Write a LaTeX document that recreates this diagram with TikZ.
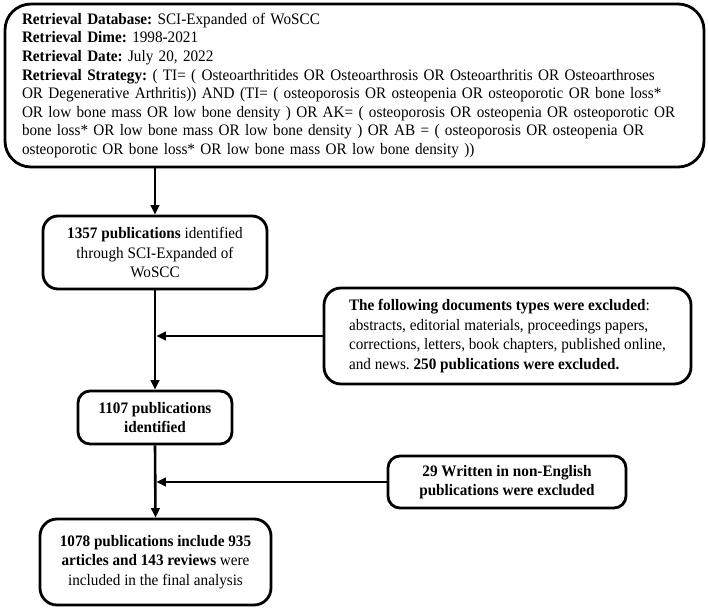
\documentclass[tikz,border=0pt]{standalone}
\usepackage{fontspec}
\setmainfont{Liberation Serif}[FakeStretch=0.95]
\usetikzlibrary{arrows.meta}
\frenchspacing
\begin{document}
\begin{tikzpicture}[x=1pt,y=-1pt,
  box/.style={draw, line width=2.8pt, rounded corners=14pt, inner sep=0pt,
    align=center, font=\fontsize{16}{19.5}\selectfont},
  arr/.style={line width=2.6pt, -{Triangle[length=9.5pt,width=8.5pt]}}]
\useasboundingbox (0,0) rectangle (708,609);
\node[box, rounded corners=26pt, align=left, text width=665pt, inner xsep=17pt,
  minimum height=163pt, font=\fontsize{16}{18.6}\selectfont] (top) at (354.5,85.5)
{\mbox{\textbf{Retrieval Database:} SCI-Expanded of WoSCC}\\
\mbox{\textbf{Retrieval Dime:} 1998-2021}\\
\mbox{\textbf{Retrieval Date:} July 20, 2022}\\
\mbox{\textbf{Retrieval Strategy:} ( TI= ( Osteoarthritides OR Osteoarthrosis OR Osteoarthritis OR Osteoarthroses}\\
\mbox{OR Degenerative Arthritis)) AND (TI= ( osteoporosis OR osteopenia OR osteoporotic OR bone loss*}\\
\mbox{OR low bone mass OR low bone density ) OR AK= ( osteoporosis OR osteopenia OR osteoporotic OR}\\
\mbox{bone loss* OR low bone mass OR low bone density ) OR AB = ( osteoporosis OR osteopenia OR}\\
\mbox{osteoporotic OR bone loss* OR low bone mass OR low bone density ))}};
\node[box, rounded corners=15pt, minimum width=224pt, minimum height=73pt] (id) at (155,252.5)
{\textbf{1357 publications} identified\\through SCI-Expanded of\\WoSCC};
\node[box, rounded corners=17pt, align=left, minimum width=367pt, minimum height=96pt] (ex1) at (507.5,336)
{\textbf{The following documents types were excluded}:\\
abstracts, editorial materials, proceedings papers,\\
corrections, letters, book chapters, published online,\\
and news. \textbf{250 publications were excluded.}};
\node[box, rounded corners=12pt, minimum width=154pt, minimum height=53pt] (mid) at (155,417.5)
{\textbf{1107 publications}\\\textbf{identified}};
\node[box, rounded corners=12pt, minimum width=238pt, minimum height=52pt] (ex2) at (507,482)
{\textbf{29 Written in non-English}\\\textbf{publications were excluded}};
\node[box, rounded corners=17pt, minimum width=231pt, minimum height=86pt] (fin) at (155.5,562)
{\textbf{1078 publications include 935}\\\textbf{articles and 143 reviews} were\\included in the final analysis};
\draw[arr] (top.south -| id.north) -- (id.north);
\draw[arr] (id.south) -- (mid.north);
\draw[arr] (mid.south) -- (fin.north);
\draw[arr, shorten >=1.3pt] (ex1.west) -- (ex1.west -| id.south);
\draw[arr, shorten >=1.3pt] (ex2.west) -- (ex2.west -| mid.south);
\end{tikzpicture}
\end{document}
